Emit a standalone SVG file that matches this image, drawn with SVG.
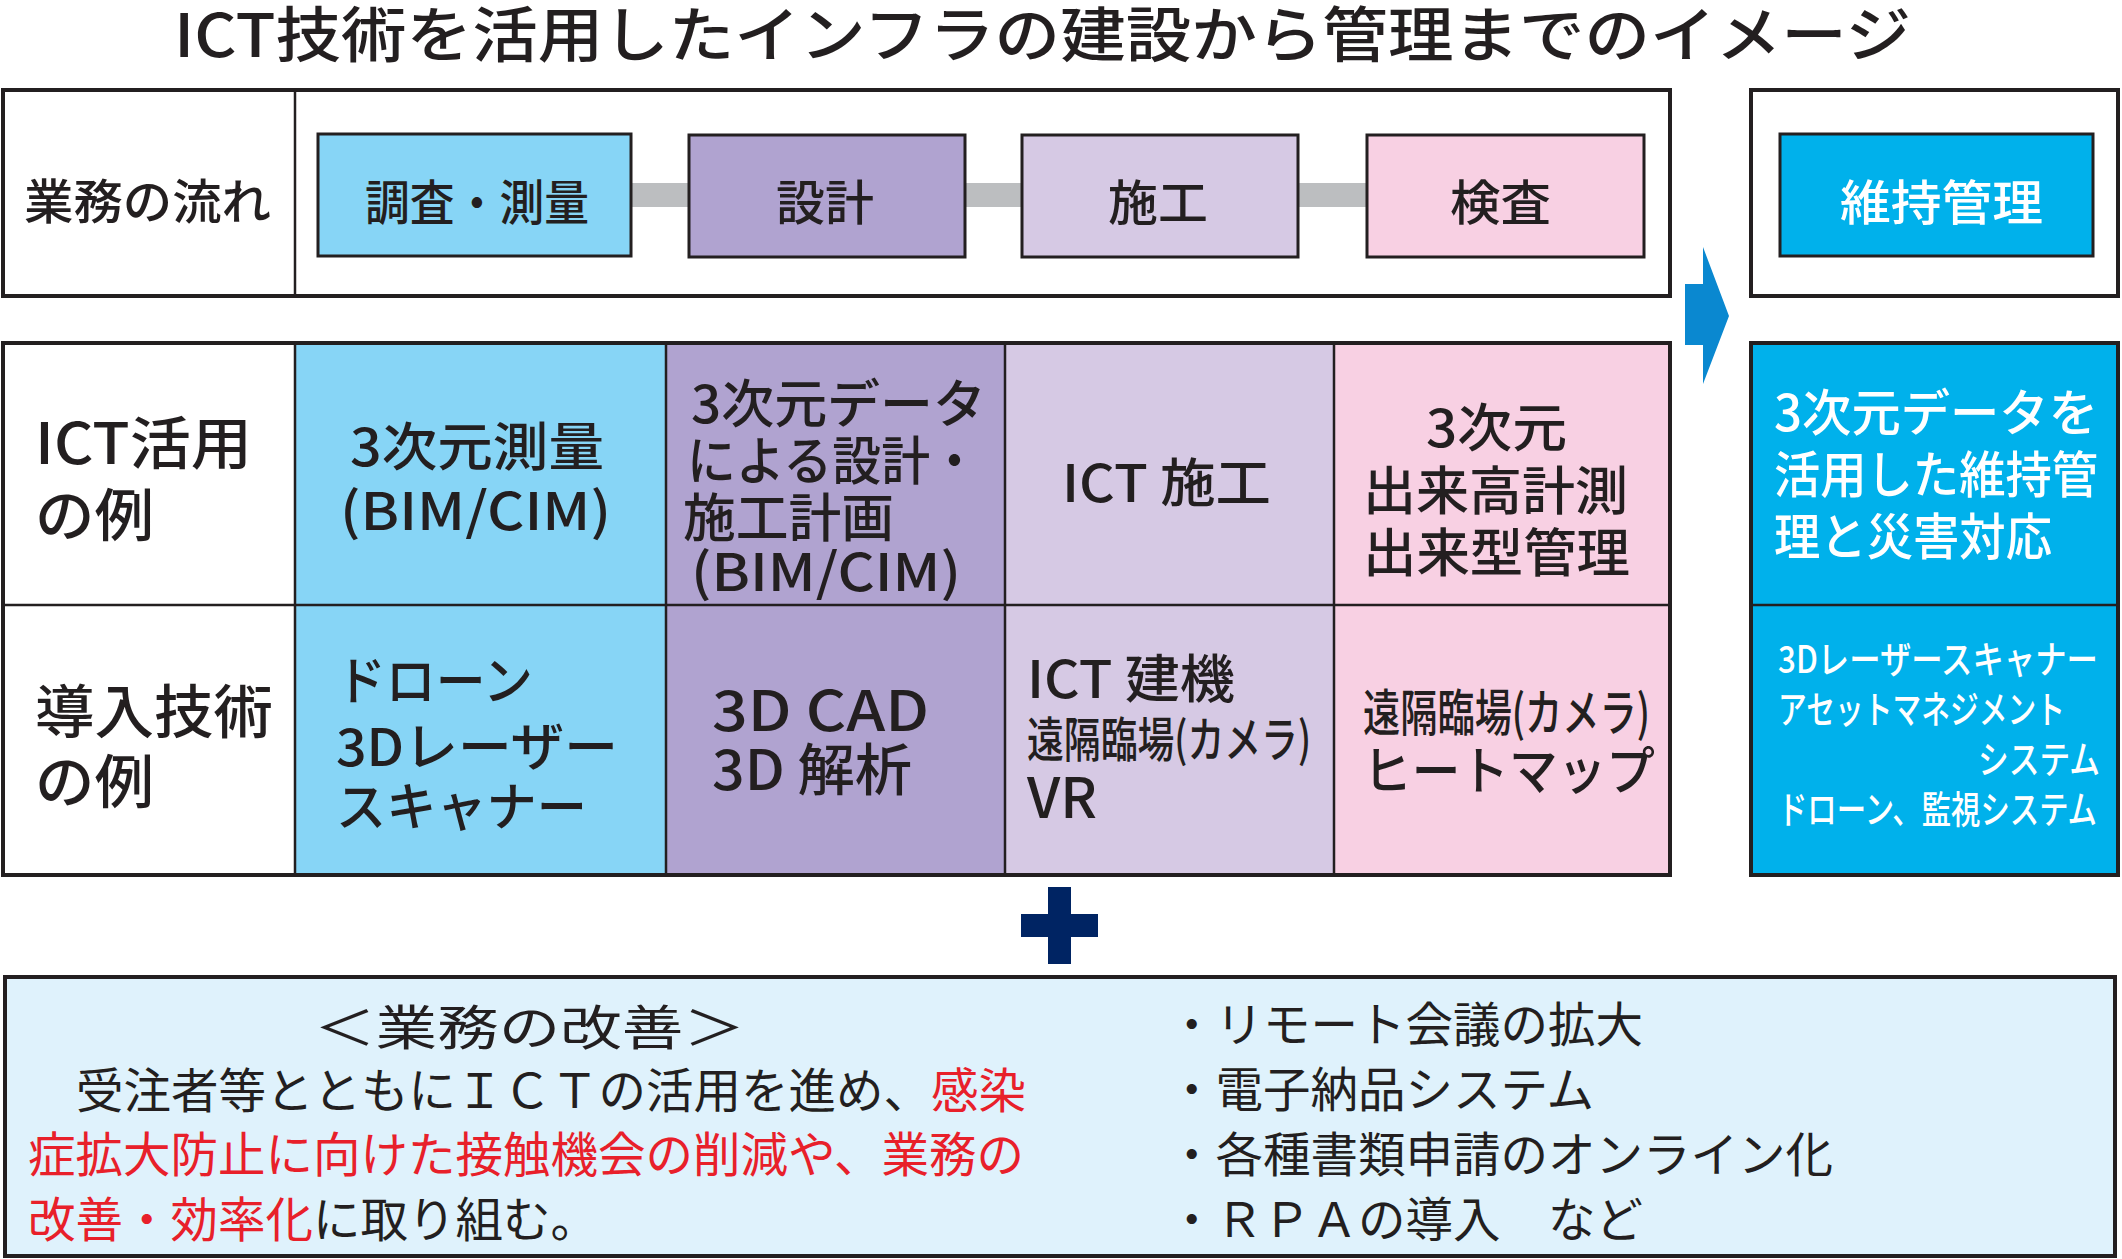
<svg xmlns="http://www.w3.org/2000/svg" width="2122" height="1259" viewBox="0 0 2122 1259">
<style>
.g{font-family:"Noto Sans CJK JP","Noto Sans",sans-serif;font-weight:500;fill:#231f20}
.w{fill:#ffffff}
.m{font-family:"Noto Sans CJK JP","Noto Sans",sans-serif;font-weight:400;fill:#231f20;font-size:47.5px}
.red{fill:#e8202a}
.frame{fill:#ffffff;stroke:#231f20;stroke-width:4}
.box{stroke:#231f20;stroke-width:3}
.cell{stroke:#231f20;stroke-width:2.5}
.bar{fill:#bcbec0}
</style>
<rect x="0" y="0" width="2122" height="1259" fill="#ffffff"/>

<g id="title">
<text class="g" x="174" y="57" font-size="60" font-weight="700" textLength="1737" lengthAdjust="spacingAndGlyphs">ICT技術を活用したインフラの建設から管理までのイメージ</text>
</g>

<g id="flow-frame">
<rect class="frame" x="3" y="90" width="1667" height="206"/>
<line x1="295" y1="90" x2="295" y2="296" stroke="#231f20" stroke-width="2.5"/>
<text class="g" x="24" y="219" font-size="48" textLength="247" lengthAdjust="spacingAndGlyphs">業務の流れ</text>
</g>

<g id="connectors">
<rect class="bar" x="631" y="183" width="58" height="24"/>
<rect class="bar" x="965" y="183" width="57" height="24"/>
<rect class="bar" x="1298" y="183" width="69" height="24"/>
<polygon points="1685,284 1703,284 1703,247 1729,316 1703,384 1703,345 1685,345" fill="#0a88d0"/>
</g>

<g id="stage-survey">
<rect class="box" x="318" y="134" width="313" height="122" fill="#87d5f6"/>
<text class="g" x="365" y="220" font-size="48" textLength="224" lengthAdjust="spacingAndGlyphs">調査・測量</text>
</g>
<g id="stage-design">
<rect class="box" x="689" y="135" width="276" height="122" fill="#b0a3d0"/>
<text class="g" x="776" y="220" font-size="48" textLength="98" lengthAdjust="spacingAndGlyphs">設計</text>
</g>
<g id="stage-construction">
<rect class="box" x="1022" y="135" width="276" height="122" fill="#d6c9e4"/>
<text class="g" x="1108" y="220" font-size="48" textLength="100" lengthAdjust="spacingAndGlyphs">施工</text>
</g>
<g id="stage-inspection">
<rect class="box" x="1367" y="135" width="277" height="122" fill="#f8d0e3"/>
<text class="g" x="1450" y="220" font-size="48" textLength="101" lengthAdjust="spacingAndGlyphs">検査</text>
</g>

<g id="maintenance-frame">
<rect class="frame" x="1751" y="90" width="367" height="206"/>
<rect class="box" x="1780" y="134" width="313" height="122" fill="#00b1eb"/>
<text class="g w" x="1840" y="220" font-size="48" textLength="203" lengthAdjust="spacingAndGlyphs">維持管理</text>
</g>

<g id="table">
<rect x="3" y="343" width="292" height="532" fill="#ffffff"/>
<rect x="295" y="343" width="371" height="532" fill="#87d5f6"/>
<rect x="666" y="343" width="339" height="532" fill="#b0a3d0"/>
<rect x="1005" y="343" width="329" height="532" fill="#d6c9e4"/>
<rect x="1334" y="343" width="336" height="532" fill="#f8d0e3"/>
<line class="cell" x1="3" y1="605" x2="1670" y2="605"/>
<line class="cell" x1="295" y1="343" x2="295" y2="875"/>
<line class="cell" x1="666" y1="343" x2="666" y2="875"/>
<line class="cell" x1="1005" y1="343" x2="1005" y2="875"/>
<line class="cell" x1="1334" y1="343" x2="1334" y2="875"/>
<rect x="3" y="343" width="1667" height="532" fill="none" stroke="#231f20" stroke-width="4"/>
</g>

<g id="row-ict-label">
<text class="g" x="35" y="464" font-size="57" textLength="217" lengthAdjust="spacingAndGlyphs">ICT活用</text>
<text class="g" x="35" y="536" font-size="57" textLength="119" lengthAdjust="spacingAndGlyphs">の例</text>
</g>
<g id="ict-survey">
<text class="g" x="350" y="466" font-size="52" textLength="254" lengthAdjust="spacingAndGlyphs">3次元測量</text>
<text class="g" x="340" y="530" font-size="52" textLength="271" lengthAdjust="spacingAndGlyphs">(BIM/CIM)</text>
</g>
<g id="ict-design">
<text class="g" x="691" y="423" font-size="52" textLength="295" lengthAdjust="spacingAndGlyphs">3次元データ</text>
<text class="g" x="687" y="480" font-size="52" textLength="292" lengthAdjust="spacingAndGlyphs">による設計・</text>
<text class="g" x="683" y="537" font-size="52" textLength="211" lengthAdjust="spacingAndGlyphs">施工計画</text>
<text class="g" x="691" y="591" font-size="52" textLength="270" lengthAdjust="spacingAndGlyphs">(BIM/CIM)</text>
</g>
<g id="ict-construction">
<text class="g" x="1062" y="502" font-size="52" textLength="209" lengthAdjust="spacingAndGlyphs">ICT 施工</text>
</g>
<g id="ict-inspection">
<text class="g" x="1426" y="447" font-size="52" textLength="141" lengthAdjust="spacingAndGlyphs">3次元</text>
<text class="g" x="1363" y="510" font-size="52" textLength="265" lengthAdjust="spacingAndGlyphs">出来高計測</text>
<text class="g" x="1363" y="572" font-size="52" textLength="267" lengthAdjust="spacingAndGlyphs">出来型管理</text>
</g>

<g id="row-tech-label">
<text class="g" x="35" y="733" font-size="58" textLength="238" lengthAdjust="spacingAndGlyphs">導入技術</text>
<text class="g" x="35" y="803" font-size="58" textLength="119" lengthAdjust="spacingAndGlyphs">の例</text>
</g>
<g id="tech-survey">
<text class="g" x="336" y="700" font-size="52" textLength="197" lengthAdjust="spacingAndGlyphs">ドローン</text>
<text class="g" x="336" y="766" font-size="52" textLength="282" lengthAdjust="spacingAndGlyphs">3Dレーザー</text>
<text class="g" x="336" y="826" font-size="52" textLength="251" lengthAdjust="spacingAndGlyphs">スキャナー</text>
</g>
<g id="tech-design">
<text class="g" x="712" y="731" font-size="56" textLength="217" lengthAdjust="spacingAndGlyphs">3D CAD</text>
<text class="g" x="712" y="790" font-size="56" textLength="200" lengthAdjust="spacingAndGlyphs">3D 解析</text>
</g>
<g id="tech-construction">
<text class="g" x="1027" y="698" font-size="52" textLength="208" lengthAdjust="spacingAndGlyphs">ICT 建機</text>
<text class="g" x="1027" y="757" font-size="48" textLength="284" lengthAdjust="spacingAndGlyphs">遠隔臨場(カメラ)</text>
<text class="g" x="1027" y="818" font-size="56" textLength="70" lengthAdjust="spacingAndGlyphs">VR</text>
</g>
<g id="tech-inspection">
<text class="g" x="1363" y="731" font-size="50" textLength="287" lengthAdjust="spacingAndGlyphs">遠隔臨場(カメラ)</text>
<text class="g" x="1363" y="790" font-size="52" textLength="292" lengthAdjust="spacingAndGlyphs">ヒートマップ</text>
</g>

<g id="maintenance-table">
<rect x="1751" y="343" width="367" height="532" fill="#00b1eb" stroke="#231f20" stroke-width="4"/>
<line class="cell" x1="1751" y1="605" x2="2118" y2="605"/>
<text class="g w" x="1774" y="431" font-size="50" textLength="324" lengthAdjust="spacingAndGlyphs">3次元データを</text>
<text class="g w" x="1774" y="493" font-size="50" textLength="324" lengthAdjust="spacingAndGlyphs">活用した維持管</text>
<text class="g w" x="1774" y="555" font-size="50" textLength="278" lengthAdjust="spacingAndGlyphs">理と災害対応</text>
<text class="g w" x="1778" y="673" font-size="38" textLength="320" lengthAdjust="spacingAndGlyphs">3Dレーザースキャナー</text>
<text class="g w" x="1778" y="723" font-size="38" textLength="287" lengthAdjust="spacingAndGlyphs">アセットマネジメント</text>
<text class="g w" x="1978" y="773" font-size="38" textLength="122" lengthAdjust="spacingAndGlyphs">システム</text>
<text class="g w" x="1778" y="823" font-size="38" textLength="319" lengthAdjust="spacingAndGlyphs">ドローン、監視システム</text>
</g>

<g id="plus">
<rect x="1048" y="887" width="23" height="77" fill="#002463"/>
<rect x="1021" y="914" width="77" height="23" fill="#002463"/>
</g>

<g id="improvement">
<rect x="5" y="977" width="2110" height="279" fill="#dff2fc" stroke="#231f20" stroke-width="4"/>
<text class="m" x="314" y="1045" font-size="56" textLength="431" lengthAdjust="spacingAndGlyphs">＜業務の改善＞</text>
<text class="m" x="76" y="1108">受注者等とともにＩＣＴの活用を進め、<tspan class="red">感染</tspan></text>
<text class="m red" x="28" y="1172">症拡大防止に向けた接触機会の削減や、業務の</text>
<text class="m" x="28" y="1237"><tspan class="red">改善・効率化</tspan>に取り組む。</text>
<text class="m" x="1168" y="1042">・リモート会議の拡大</text>
<text class="m" x="1168" y="1107">・電子納品システム</text>
<text class="m" x="1168" y="1172">・各種書類申請のオンライン化</text>
<text class="m" x="1168" y="1237">・ＲＰＡの導入　など</text>
</g>
</svg>
